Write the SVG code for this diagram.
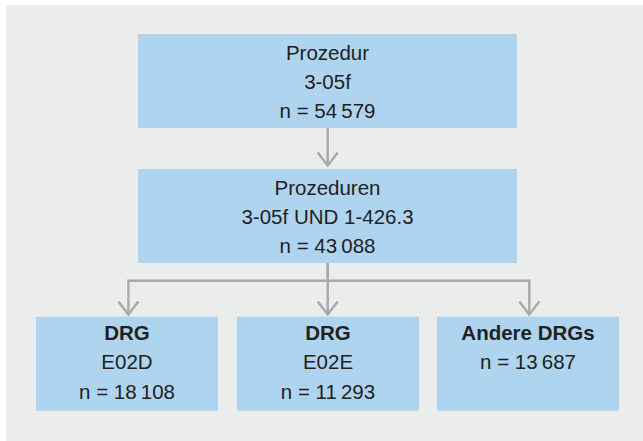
<svg xmlns="http://www.w3.org/2000/svg" width="643" height="441" viewBox="0 0 643 441">
  <style>
    .box { fill: #AED4F0; }
    .t { font-family: "Liberation Sans", Arial, sans-serif; font-size: 20.5px; fill: #231F20; text-anchor: middle; }
    .b { font-weight: bold; }
    .conn { fill: none; stroke: #A8A9AB; stroke-width: 2.4; }
  </style>
  <defs>
    <marker id="arrow" markerUnits="userSpaceOnUse" markerWidth="30" markerHeight="30" refX="0" refY="0" orient="auto" overflow="visible">
      <path d="M-13,-10 L0,0 L-13,10" fill="none" stroke="#A8A9AB" stroke-width="2.4"/>
    </marker>
  </defs>
  <rect x="6" y="5" width="637" height="436" fill="#EBECEC"/>
  <g id="connectors">
    <path class="conn" d="M327.7,128 V165.5" marker-end="url(#arrow)"/>
    <path class="conn" d="M327.7,263 V280.7 H128.4 V314.5" marker-end="url(#arrow)"/>
    <path class="conn" d="M327.7,263 V314.5" marker-end="url(#arrow)"/>
    <path class="conn" d="M327.7,280.7 H529.3 V314.5" marker-end="url(#arrow)"/>
  </g>
  <g id="node-prozedur">
    <rect class="box" x="138" y="34" width="379" height="94"/>
    <text class="t" x="327.5" y="60">Prozedur</text>
    <text class="t" x="327.5" y="89">3-05f</text>
    <text class="t" x="327.5" y="118">n = 54&#8201;579</text>
  </g>
  <g id="node-prozeduren">
    <rect class="box" x="138" y="169" width="379" height="94"/>
    <text class="t" x="327.5" y="195">Prozeduren</text>
    <text class="t" x="327.5" y="224">3-05f UND 1-426.3</text>
    <text class="t" x="327.5" y="253">n = 43&#8201;088</text>
  </g>
  <g id="node-e02d">
    <rect class="box" x="36" y="316.7" width="182" height="94"/>
    <text class="t b" x="127" y="339.5">DRG</text>
    <text class="t" x="127" y="369.3">E02D</text>
    <text class="t" x="127" y="399.3">n = 18&#8201;108</text>
  </g>
  <g id="node-e02e">
    <rect class="box" x="237" y="316.7" width="182" height="94"/>
    <text class="t b" x="328" y="339.5">DRG</text>
    <text class="t" x="328" y="369.3">E02E</text>
    <text class="t" x="328" y="399.3">n = 11&#8201;293</text>
  </g>
  <g id="node-andere">
    <rect class="box" x="437" y="316.7" width="182" height="94"/>
    <text class="t b" x="528" y="339.5">Andere DRGs</text>
    <text class="t" x="528" y="368.5">n = 13&#8201;687</text>
  </g>
</svg>
